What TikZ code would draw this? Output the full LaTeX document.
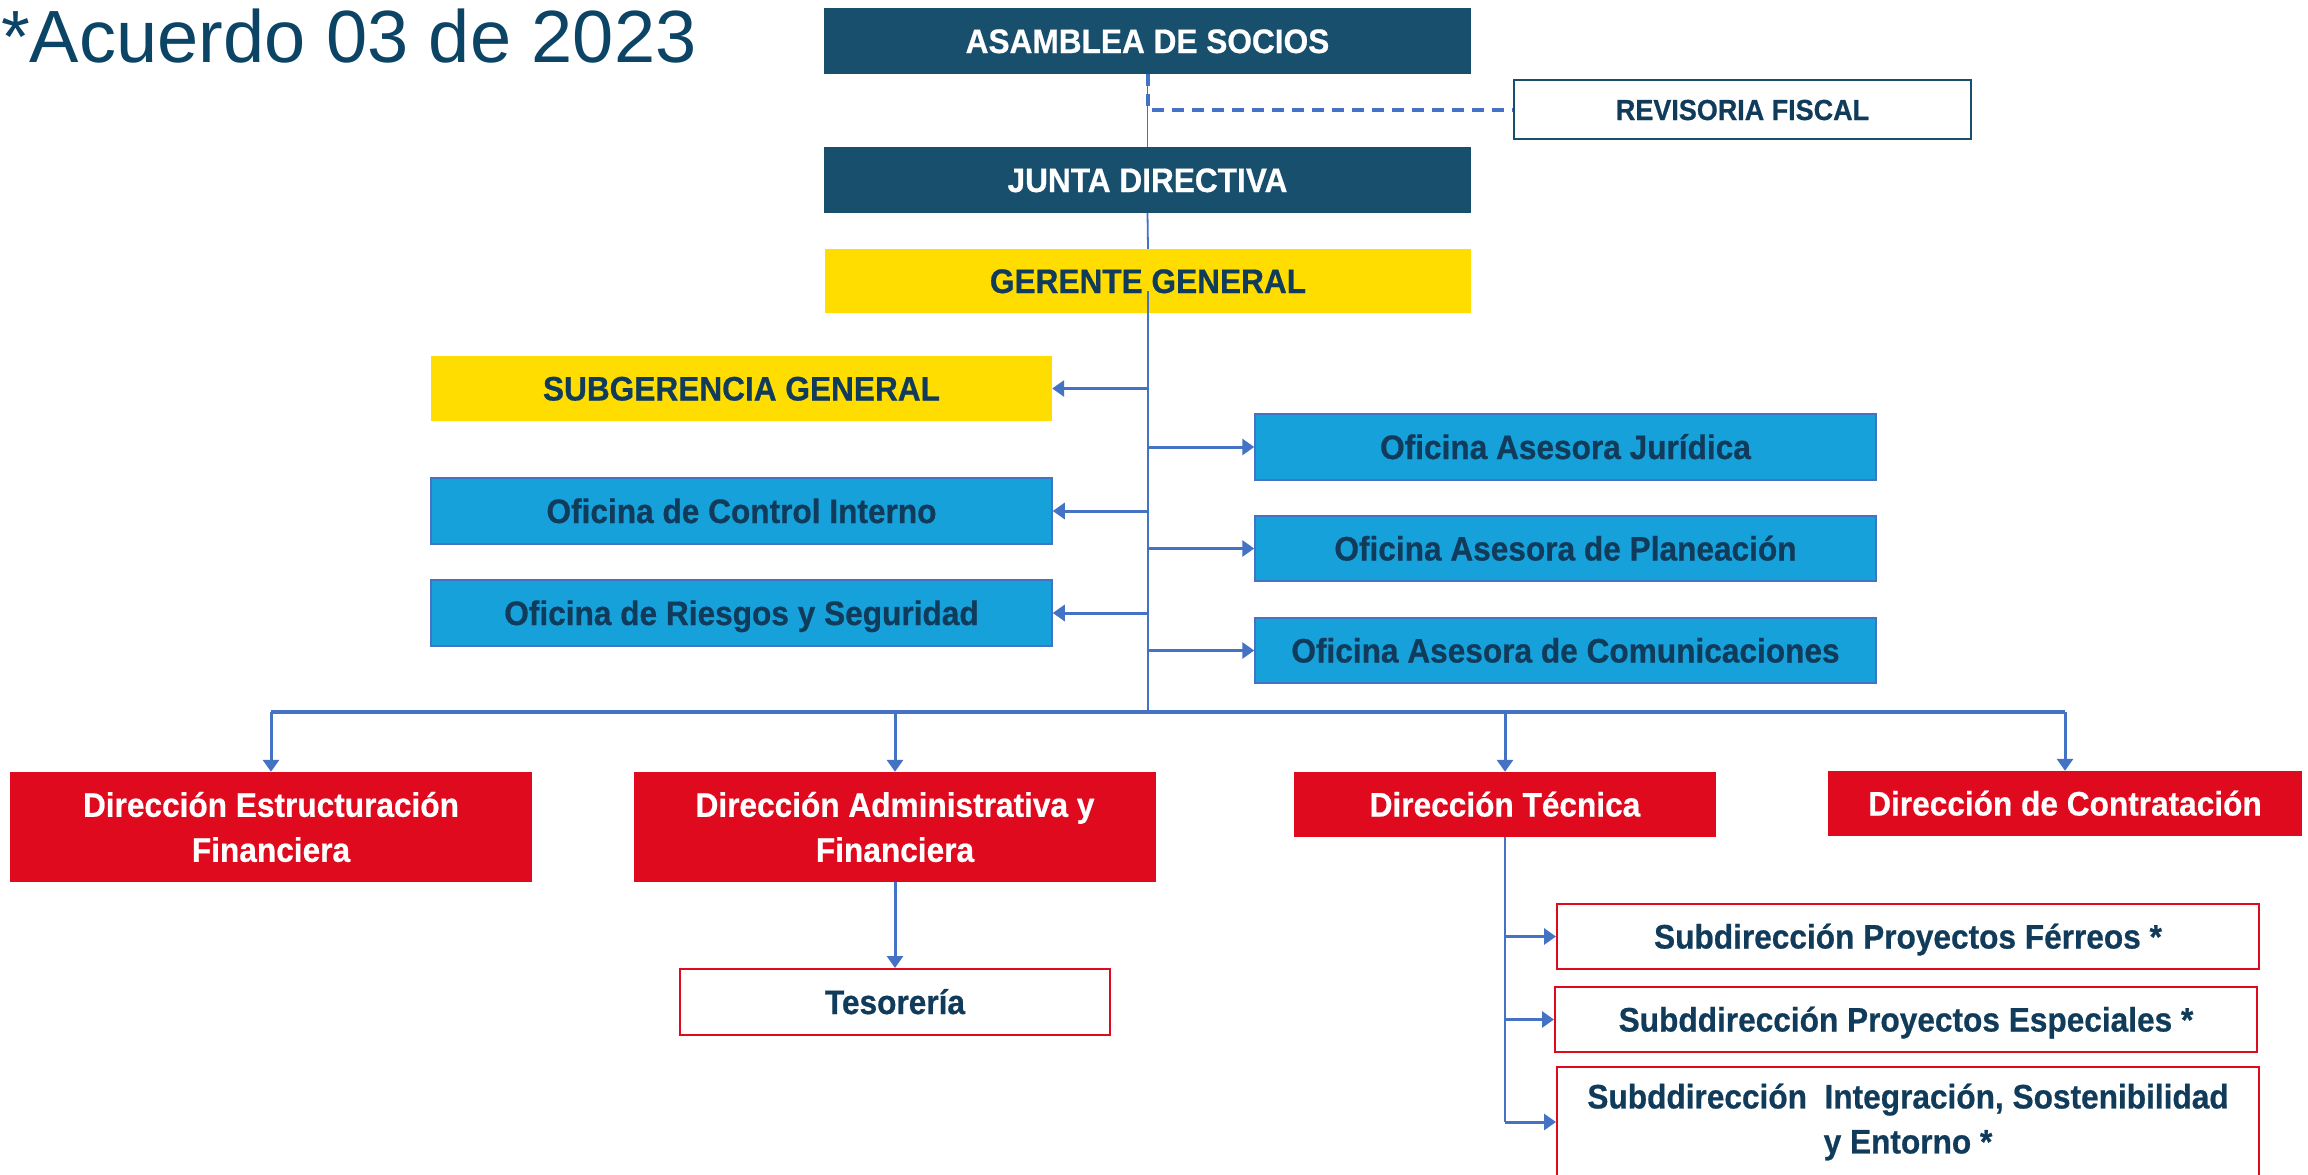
\documentclass[tikz,border=0pt]{standalone}
\usepackage{fontspec}
\setmainfont{Liberation Sans}
\newfontfamily\boxfont[FakeStretch=0.93, BoldFeatures={FakeBold=0.6}]{Liberation Sans}
\usetikzlibrary{arrows.meta}
\definecolor{navy}{RGB}{24,79,109}
\definecolor{ttl}{RGB}{12,68,102}
\definecolor{txt}{RGB}{16,59,90}
\definecolor{yel}{RGB}{255,221,0}
\definecolor{sky}{RGB}{23,161,219}
\definecolor{rojo}{RGB}{224,10,30}
\definecolor{con}{RGB}{68,114,196}
\tikzset{
  box/.style={rectangle, inner sep=0pt, align=center, font=\boxfont\bfseries\fontsize{34}{45}\selectfont},
  oneline/.style={text height=24pt, text depth=0pt},
  navybox/.style={box, oneline, fill=navy, text=white},
  yelbox/.style={box, oneline, fill=yel, text=txt},
  skybox/.style={box, oneline, fill=sky, draw=con, line width=1.5pt, text=txt},
  redbox/.style={box, fill=rojo, text=white},
  outred/.style={box, fill=white, draw=rojo, line width=2pt, text=txt},
  outnavy/.style={box, fill=white, draw=navy, line width=2pt, text=txt, font=\boxfont\bfseries\fontsize{29}{36}\selectfont, text height=21pt, text depth=0pt},
  thinline/.style={draw=con, line width=1.8pt},
  arr/.style={draw=con, line width=3pt, -{Triangle[length=12pt,width=16pt]}},
  busline/.style={draw=con, line width=3.5pt},
  dashline/.style={draw=con, line width=4pt, dash pattern=on 12pt off 8pt}
}
\begin{document}
\begin{tikzpicture}[x=1pt,y=-1pt]
\useasboundingbox[fill=white] (0,0) rectangle (2308,1175);
\node[anchor=base west, inner sep=0pt, text=ttl, font=\fontsize{74}{80}\selectfont] (title) at (1,62) {*Acuerdo 03 de 2023};

\node[navybox, minimum width=647pt, minimum height=66pt] (asam) at (1147.5,41) {ASAMBLEA DE SOCIOS};
\node[outnavy, minimum width=457pt, minimum height=59pt] (rev) at (1742.5,109.5) {REVISORIA FISCAL};
\node[navybox, minimum width=647pt, minimum height=66pt] (junta) at (1147.5,180) {JUNTA DIRECTIVA};
\node[yelbox, minimum width=646pt, minimum height=64pt] (ger) at (1148,281) {GERENTE GENERAL};

\node[yelbox, minimum width=621pt, minimum height=65pt] (subg) at (741.5,388.5) {SUBGERENCIA GENERAL};
\node[skybox, minimum width=621pt, minimum height=66pt] (jur) at (1565.5,447) {Oficina Asesora Jurídica};
\node[skybox, minimum width=621pt, minimum height=66pt] (ctrl) at (741.5,511) {Oficina de Control Interno};
\node[skybox, minimum width=621pt, minimum height=65pt] (plan) at (1565.5,548.5) {Oficina Asesora de Planeación};
\node[skybox, minimum width=621pt, minimum height=66pt] (ries) at (741.5,613) {Oficina de Riesgos y Seguridad};
\node[skybox, minimum width=621pt, minimum height=65pt] (com) at (1565.5,650.5) {Oficina Asesora de Comunicaciones};

\node[redbox, minimum width=522pt, minimum height=110pt] (def) at (271,827) {Dirección Estructuración\\Financiera};
\node[redbox, minimum width=522pt, minimum height=110pt] (daf) at (895,827) {Dirección Administrativa y\\Financiera};
\node[redbox, oneline, minimum width=422pt, minimum height=65pt] (dt) at (1505,804.5) {Dirección Técnica};
\node[redbox, oneline, minimum width=474pt, minimum height=65pt] (dc) at (2065,803.5) {Dirección de Contratación};

\node[outred, oneline, minimum width=430pt, minimum height=66pt] (tes) at (895,1002) {Tesorería};
\node[outred, oneline, minimum width=702pt, minimum height=65pt] (fer) at (1908,936.5) {Subdirección Proyectos Férreos *};
\node[outred, oneline, minimum width=702pt, minimum height=65pt] (esp) at (1906,1019.5) {Subddirección Proyectos Especiales *};
\node[outred, minimum width=702pt, minimum height=110pt] (integ) at (1908,1122) {Subddirección\ \ Integración, Sostenibilidad\\y Entorno *};

% top connectors
\draw[dashline] (asam.south) |- (rev.west);
\draw[thinline] (asam.south) -- (junta.north);
\draw[thinline] (junta.south) -- (ger.north);

% trunk and bus
\coordinate (bus) at (1148,712);
\draw[thinline] ([yshift=-10pt]ger.center) -- (bus);
\draw[arr] (bus |- subg.east) -- (subg.east);
\draw[arr] (bus |- jur.west) -- (jur.west);
\draw[arr] (bus |- ctrl.east) -- (ctrl.east);
\draw[arr] (bus |- plan.west) -- (plan.west);
\draw[arr] (bus |- ries.east) -- (ries.east);
\draw[arr] (bus |- com.west) -- (com.west);

\draw[busline] (def.north |- bus) -- (dc.north |- bus);
\draw[arr] (def.north |- bus) -- (def.north);
\draw[arr] (daf.north |- bus) -- (daf.north);
\draw[arr] (dt.north |- bus) -- (dt.north);
\draw[arr] (dc.north |- bus) -- (dc.north);

% lower branches
\draw[arr] (daf.south) -- (tes.north);
\draw[thinline] (dt.south) -- (dt.south |- integ.west);
\draw[arr] (dt.south |- fer.west) -- (fer.west);
\draw[arr] (dt.south |- esp.west) -- (esp.west);
\draw[arr] (dt.south |- integ.west) -- (integ.west);
\end{tikzpicture}
\end{document}
